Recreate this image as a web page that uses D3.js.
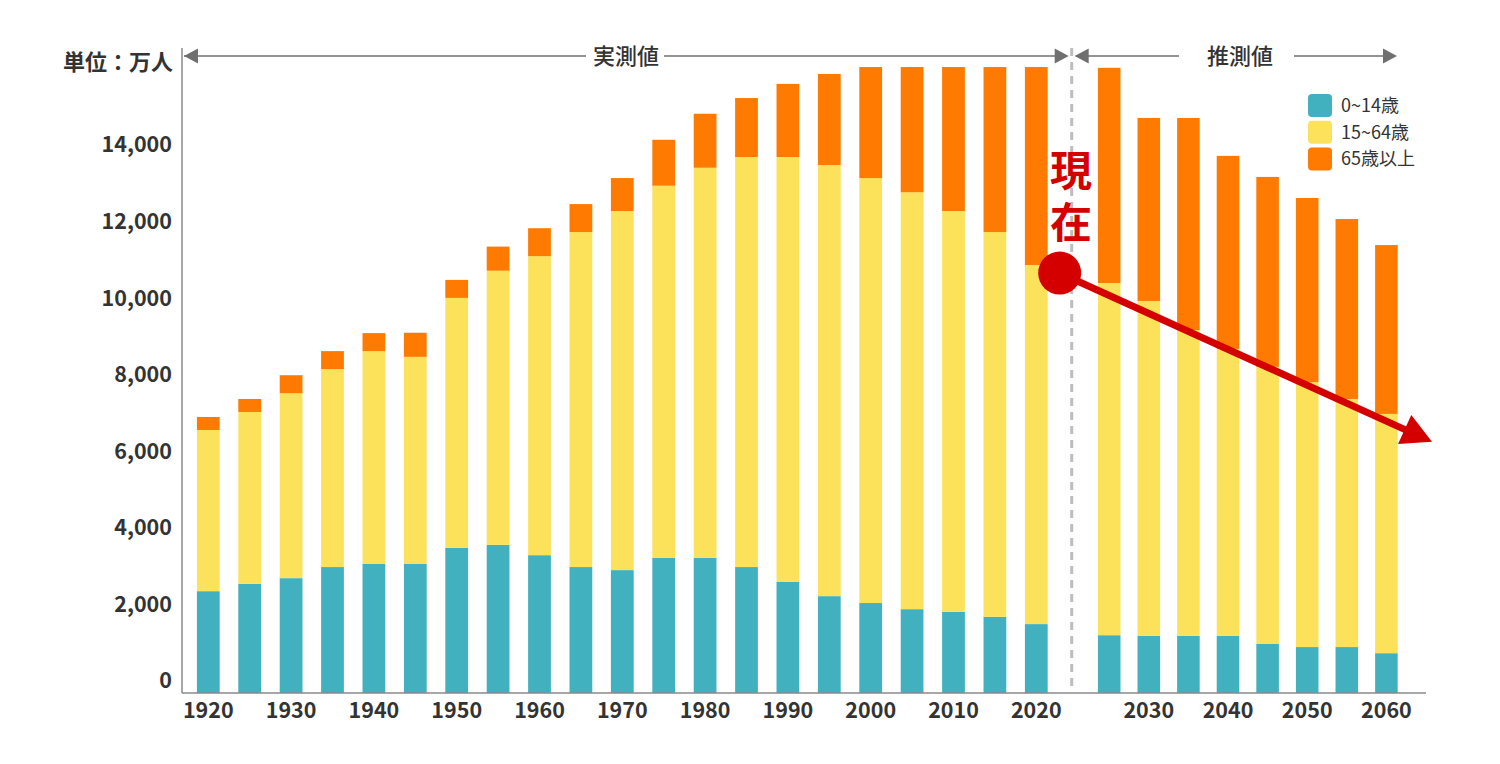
<!DOCTYPE html>
<html><head><meta charset="utf-8">
<script src="https://cdn.jsdelivr.net/npm/d3@7"></script>
<style>
html,body{margin:0;padding:0;background:#fff;}
text{font-family:"Noto Sans CJK JP","Noto Sans",sans-serif;}
</style></head>
<body><svg id="c" width="1500" height="764"></svg>
<script>
// ---- data (万人) ----
const actualYears = [1920,1925,1930,1935,1940,1945,1950,1955,1960,1965,1970,1975,1980,1985,1990,1995,2000,2005,2010,2015,2020];
const projYears   = [2025,2030,2035,2040,2045,2050,2055,2060];
const years = actualYears.concat(projYears);
const age0_14   = [2660,2850,3000,3290,3370,3370,3790,3870,3600,3290,3210,3530,3530,3290,2900,2530,2350,2190,2120,1990,1800, 1510,1490,1490,1490,1280,1200,1200,1040];
const age15_64  = [4210,4490,4830,5170,5560,5410,6530,7160,7810,8750,9380,9720,10190,10710,11100,11260,11100,10890,10470,10050,9380, 9200,8750,7990,7500,7240,6920,6480,6250];
const age65plus = [340,340,470,470,470,630,470,630,730,730,860,1200,1410,1540,1910,2380,2900,3270,3760,4310,5170, 5620,4780,5540,5040,4960,4810,4700,4410];
const seriesKeys = ["a","b","c"];
const seriesLabels = ["0~14歳","15~64歳","65歳以上"];
const seriesColors = ["#42b1bf","#fce25a","#ff7a00"];
const yTicks = [0,2000,4000,6000,8000,10000,12000,14000];
const xTickLabels = [1920,1930,1940,1950,1960,1970,1980,1990,2000,2010,2020,2030,2040,2050,2060];
const unitLabel = "単位：万人";
const actualLabel = "実測値";
const projLabel = "推測値";
const nowLabel = "現在";
const trendFrom = 10970, trendTo = 6560;

const svg = d3.select("#c");
const baseY = 693;
const y = d3.scaleLinear().domain([0,16000]).range([baseY, baseY - 16000/26.12]);
const xL = d3.scaleBand().domain(actualYears).range([187.6,1057]).paddingInner(0.45).paddingOuter(0.225);
const xR = d3.scaleBand().domain(projYears).range([1089.4,1406.2]).paddingInner(0.43).paddingOuter(0.215);
const xOf = yr => actualYears.includes(yr) ? xL(yr) : xR(yr);
const bwOf = yr => actualYears.includes(yr) ? xL.bandwidth() : xR.bandwidth();

const rows = years.map((yr,i)=>({year:yr,a:age0_14[i],b:age15_64[i],c:age65plus[i]}));
const stacked = d3.stack().keys(seriesKeys)(rows);
const yClip = 67;

svg.append("g").selectAll("g").data(stacked).join("g")
  .attr("fill",(d,i)=>seriesColors[i])
  .selectAll("rect").data(d=>d).join("rect")
  .attr("x",d=>xOf(d.data.year))
  .attr("width",d=>bwOf(d.data.year))
  .attr("y",d=>Math.max(yClip,y(d[1])))
  .attr("height",d=>Math.max(0,y(d[0])-Math.max(yClip,y(d[1]))));

// axes
const axisX0 = 182, axisX1 = 1426;
svg.append("line").attr("x1",axisX0).attr("x2",axisX0).attr("y1",48).attr("y2",baseY)
  .attr("stroke","#8a8a8a").attr("stroke-width",1.5);
svg.append("line").attr("x1",axisX0).attr("x2",axisX1).attr("y1",baseY).attr("y2",baseY)
  .attr("stroke","#8a8a8a").attr("stroke-width",1.5);

const yAxis = svg.append("g").attr("transform",`translate(${axisX0},0)`)
  .call(d3.axisLeft(y).tickValues(yTicks).tickFormat(d3.format(",")).tickSize(0).tickPadding(10));
yAxis.select(".domain").remove();
yAxis.selectAll("text").attr("y",-12).attr("font-size",21.5).attr("font-weight","bold").attr("fill","#333")
  .style("font-family","'Noto Sans CJK JP','Noto Sans',sans-serif");

const xAxisL = svg.append("g").attr("transform",`translate(0,${baseY})`)
  .call(d3.axisBottom(xL).tickValues(xTickLabels.filter(v=>actualYears.includes(v))).tickSize(0).tickPadding(10));
const xAxisR = svg.append("g").attr("transform",`translate(0,${baseY})`)
  .call(d3.axisBottom(xR).tickValues(xTickLabels.filter(v=>projYears.includes(v))).tickSize(0).tickPadding(10));
[xAxisL,xAxisR].forEach(g=>{
  g.select(".domain").remove();
  g.selectAll("text").attr("font-size",21.5).attr("font-weight","bold").attr("fill","#333")
   .style("font-family","'Noto Sans CJK JP','Noto Sans',sans-serif");
});

// unit label
svg.append("text").attr("x",173).attr("y",70).attr("text-anchor","end")
  .attr("font-size",22).attr("font-weight","bold").attr("fill","#333").text(unitLabel);

// divider
const divX = (xL.range()[1] + xR.range()[0]) / 2 - 1.5;
svg.append("line").attr("x1",divX).attr("x2",divX).attr("y1",48).attr("y2",690)
  .attr("stroke","#bdbdbd").attr("stroke-width",3).attr("stroke-dasharray","8,6");

// header arrows
const hy = 56, gray="#6f6f6f";
function hline(x1,x2){svg.append("line").attr("x1",x1).attr("x2",x2).attr("y1",hy).attr("y2",hy).attr("stroke",gray).attr("stroke-width",1.5);}
function head(tip,dir){
  const b = tip - dir*14;
  svg.append("path").attr("d",`M${tip},${hy}L${b},${hy-7.5}L${b},${hy+7.5}Z`).attr("fill",gray);
}
hline(axisX0+2,586); hline(664,divX-6);
head(axisX0+2,-1); head(divX-3,1);
svg.append("text").attr("x",626).attr("y",hy+8).attr("text-anchor","middle").attr("font-size",22)
  .attr("font-weight",500).attr("fill","#333").text(actualLabel);
hline(divX+4,1179); hline(1294,1395);
head(divX+3,-1); head(1397,1);
svg.append("text").attr("x",1240).attr("y",hy+8).attr("text-anchor","middle").attr("font-size",22)
  .attr("font-weight",500).attr("fill","#333").text(projLabel);

// legend
const lg = svg.append("g").attr("transform","translate(1308,94)");
seriesLabels.forEach((lab,i)=>{
  const g = lg.append("g").attr("transform",`translate(0,${i*26.7})`);
  g.append("rect").attr("width",24).attr("height",23).attr("rx",4).attr("fill",seriesColors[i]);
  g.append("text").attr("x",33).attr("y",18).attr("font-size",18).attr("fill","#333").text(lab);
});

// "now" annotation
const red = "#d40000";
const cx = xL(2020) + xL.bandwidth() + 12, cy = y(trendFrom);
const ex = 1432, ey = y(trendTo);
const ang = Math.atan2(ey-cy, ex-cx);
const hl = 30, hw = 16;
const bx = ex - hl*Math.cos(ang), by = ey - hl*Math.sin(ang);
svg.append("line").attr("x1",cx).attr("y1",cy).attr("x2",bx+4*Math.cos(ang)).attr("y2",by+4*Math.sin(ang))
  .attr("stroke",red).attr("stroke-width",7);
svg.append("path").attr("d",`M${ex},${ey}L${bx - hw*Math.sin(ang)},${by + hw*Math.cos(ang)}L${bx + hw*Math.sin(ang)},${by - hw*Math.cos(ang)}Z`)
  .attr("fill",red);
svg.append("circle").attr("cx",cx).attr("cy",cy).attr("r",21.5).attr("fill",red);
svg.append("text").attr("x",1071).attr("y",149)
  .style("writing-mode","vertical-rl").style("letter-spacing","10px")
  .attr("font-size",42).attr("font-weight","bold").attr("fill",red).text(nowLabel);
</script>
</body></html>
